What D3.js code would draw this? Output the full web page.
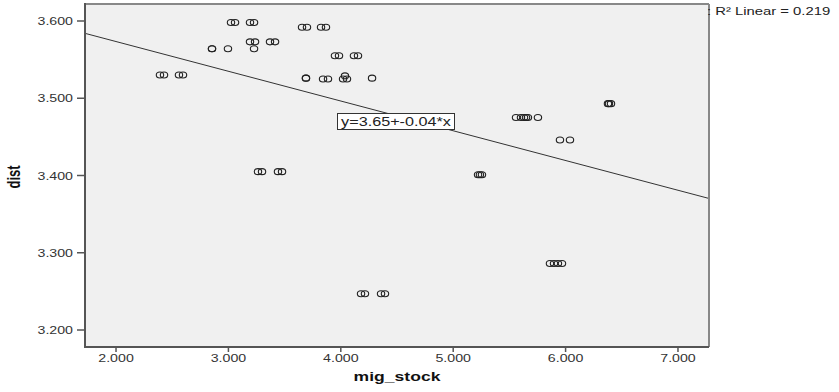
<!DOCTYPE html>
<html>
<head>
<meta charset="utf-8">
<script src="https://cdn.jsdelivr.net/npm/d3@7"></script>
<style>
  html, body { margin: 0; padding: 0; background: #fff; }
  svg { display: block; font-family: "Liberation Sans", Arial, sans-serif; }
</style>
</head>
<body>
<svg id="chart" width="839" height="392"></svg>
<script>
// points (x = mig_stock, y = dist)
const migStock = [
  3.023, 3.059, 3.192, 3.228,
  3.655, 3.699, 3.824, 3.868,
  3.192, 3.237, 3.370, 3.415,
  2.854, 2.854, 2.996, 3.228,
  3.948, 3.984, 4.117, 4.153,
  2.391, 2.427, 2.560, 2.596,
  3.690, 3.690, 4.278,
  3.842, 3.886, 4.020, 4.055, 4.037,
  6.377, 6.386, 6.404,
  5.559, 5.603, 5.630, 5.648, 5.665, 5.754,
  5.950, 6.039,
  3.263, 3.299, 3.441, 3.477,
  5.221, 5.238, 5.256,
  5.861, 5.897, 5.932, 5.968,
  4.180, 4.215, 4.358, 4.393
];
const dist = [
  3.598, 3.598, 3.598, 3.598,
  3.592, 3.592, 3.592, 3.592,
  3.573, 3.573, 3.573, 3.573,
  3.564, 3.564, 3.564, 3.564,
  3.555, 3.555, 3.555, 3.555,
  3.530, 3.530, 3.530, 3.530,
  3.526, 3.526, 3.526,
  3.525, 3.525, 3.525, 3.525, 3.529,
  3.493, 3.493, 3.493,
  3.475, 3.475, 3.475, 3.475, 3.475, 3.475,
  3.446, 3.446,
  3.405, 3.405, 3.405, 3.405,
  3.401, 3.401, 3.401,
  3.286, 3.286, 3.286, 3.286,
  3.247, 3.247, 3.247, 3.247
];
const xTicks = [2, 3, 4, 5, 6, 7];
const yTicks = [3.2, 3.3, 3.4, 3.5, 3.6];
const fitIntercept = 3.6504;
const fitSlope = -0.0385;
const fitLabel = "y=3.65+-0.04*x";
const r2Label = ": R\u00B2 Linear = 0.219";

const SX = 1.35; // the original picture is stretched sideways
const svg = d3.select("#chart");
const plot = { left: 85, top: 4, right: 709, bottom: 347 };

const x = d3.scaleLinear().domain([1.724, 7.276]).range([plot.left, plot.right]);
const y = d3.scaleLinear().domain([3.178, 3.622]).range([plot.bottom, plot.top]);
const fmt = d3.format(".3f");

// stretched text helper
function label(g, px, py, txt, opts) {
  return g.append("text")
    .attr("transform", `translate(${px},${py}) scale(${SX},1)` + (opts.rotate ? ` rotate(${opts.rotate})` : ""))
    .attr("text-anchor", opts.anchor || "start")
    .attr("font-size", opts.size)
    .attr("font-weight", opts.weight || "normal")
    .attr("fill", opts.fill || "#333")
    .text(txt);
}

// background
svg.append("rect")
  .attr("x", plot.left).attr("y", plot.top)
  .attr("width", plot.right - plot.left).attr("height", plot.bottom - plot.top)
  .attr("fill", "#f0f0f0");

// points (slightly wide, like the stretched original)
svg.append("g").selectAll("ellipse")
  .data(migStock.map((v, i) => [v, dist[i]]))
  .enter().append("ellipse")
  .attr("cx", d => x(d[0]))
  .attr("cy", d => y(d[1]))
  .attr("rx", 3.7)
  .attr("ry", 3)
  .attr("fill", "none")
  .attr("stroke", "#222")
  .attr("stroke-width", 1.1);

// fit line
const line = d3.line().x(d => x(d)).y(d => y(fitIntercept + fitSlope * d));
svg.append("path")
  .attr("d", line(x.domain()))
  .attr("fill", "none")
  .attr("stroke", "#333")
  .attr("stroke-width", 1);

// equation label
svg.append("rect")
  .attr("x", 337.5).attr("y", 113.5).attr("width", 117).attr("height", 16)
  .attr("fill", "#fff").attr("stroke", "#333").attr("stroke-width", 1);
label(svg, 396, 126, fitLabel, { anchor: "middle", size: 12, fill: "#222" });

// frame
svg.append("line").attr("x1", plot.left).attr("x2", plot.right).attr("y1", plot.top).attr("y2", plot.top)
  .attr("stroke", "#888").attr("stroke-width", 2);
svg.append("line").attr("x1", plot.right).attr("x2", plot.right).attr("y1", plot.top).attr("y2", plot.bottom)
  .attr("stroke", "#888").attr("stroke-width", 2);

// y axis
const yAxis = svg.append("g");
yAxis.append("line").attr("x1", plot.left).attr("x2", plot.left).attr("y1", plot.top - 1).attr("y2", plot.bottom + 1)
  .attr("stroke", "#555").attr("stroke-width", 2);
yTicks.forEach(t => {
  yAxis.append("line").attr("x1", plot.left - 8).attr("x2", plot.left).attr("y1", y(t)).attr("y2", y(t))
    .attr("stroke", "#555").attr("stroke-width", 1.5);
  label(yAxis, 73, y(t) + 4, fmt(t), { anchor: "end", size: 10.5 });
});

// x axis
const xAxis = svg.append("g");
xAxis.append("line").attr("x1", plot.left).attr("x2", plot.right).attr("y1", plot.bottom).attr("y2", plot.bottom)
  .attr("stroke", "#555").attr("stroke-width", 2);
xTicks.forEach(t => {
  xAxis.append("line").attr("x1", x(t)).attr("x2", x(t)).attr("y1", plot.bottom).attr("y2", plot.bottom + 5)
    .attr("stroke", "#555").attr("stroke-width", 1.5);
  label(xAxis, x(t), 362, fmt(t), { anchor: "middle", size: 10.5 });
});

// axis titles
label(svg, 397, 381, "mig_stock", { anchor: "middle", size: 13, weight: "bold", fill: "#111" });
label(svg, 20, 177, "dist", { anchor: "middle", size: 13, weight: "bold", fill: "#111", rotate: -90 });

// r-squared note
label(svg, 707, 15, r2Label, { size: 11, fill: "#222" });
</script>
</body>
</html>
